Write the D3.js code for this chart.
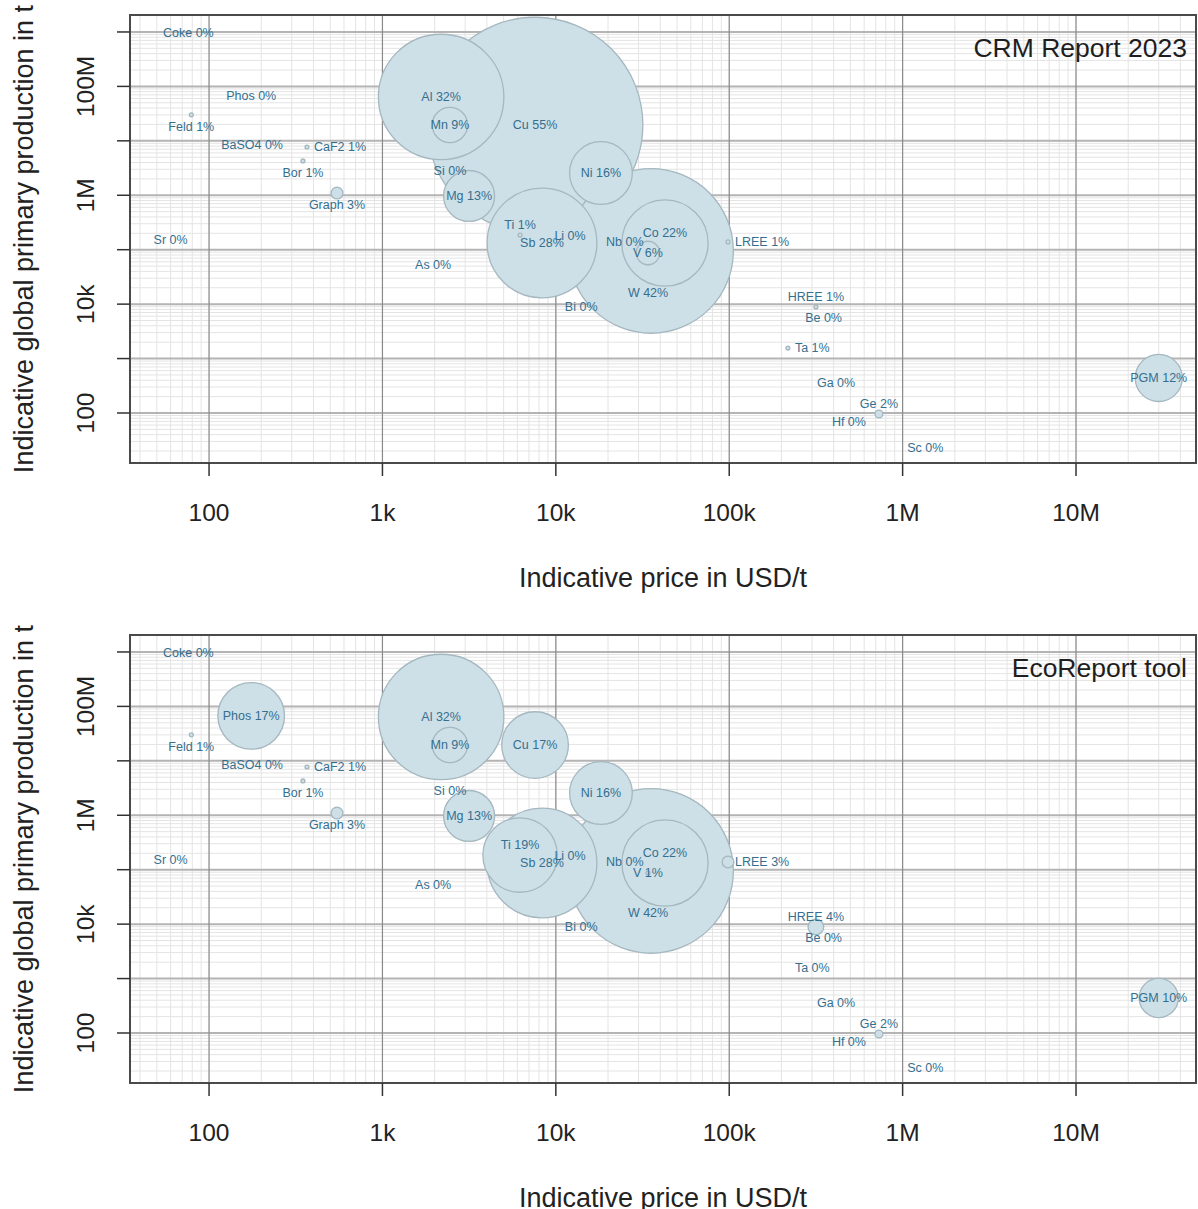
<!DOCTYPE html>
<html>
<head>
<meta charset="utf-8">
<script src="https://cdn.jsdelivr.net/npm/d3@7"></script>
<style>
  body { margin: 0; background: #fff; }
  svg { display: block; font-family: Arial, "Liberation Sans", sans-serif; }
</style>
</head>
<body>
<div class="canvas"></div>
<script>
// materials, indicative price (USD/t), indicative production (t)
const names = ['Coke', 'Phos', 'Feld', 'BaSO4', 'CaF2', 'Bor', 'Graph', 'Sr',
  'Al', 'Mn', 'Cu', 'Si', 'Mg', 'Ni', 'Ti', 'Sb', 'Li', 'Nb', 'Co', 'V', 'W',
  'LREE', 'Bi', 'As', 'HREE', 'Be', 'Ta', 'Ga', 'Ge', 'Hf', 'Sc', 'PGM'];
const price = [76, 175, 79, 177, 367, 348, 547, 60,
  2180, 2450, 7590, 2450, 3160, 18200, 6220, 8320, 12080, 25000, 42600, 34000, 35400,
  98400, 14000, 1960, 316000, 350000, 218000, 413000, 730000, 490000, 1350000, 30000000];
const production = [9.5e8, 6.7e7, 3.0e7, 8.4e6, 7.7e6, 4.27e6, 1.1e6, 1.5e5,
  6.4e7, 1.95e7, 1.95e7, 2.8e6, 9.7e5, 2.56e6, 1.86e5, 1.33e5, 1.79e5, 1.39e5, 1.33e5, 8.7e4, 9.5e4,
  1.39e5, 8850, 5.2e4, 8850, 5560, 1560, 356, 96, 68, 23, 440];

// share of impact (%) per source
const shareCRM = [0, 0, 1, 0, 1, 1, 3, 0,
  32, 9, 55, 0, 13, 16, 1, 28, 0, 0, 22, 6, 42,
  1, 0, 0, 1, 0, 1, 0, 2, 0, 0, 12];
const shareEco = [0, 17, 1, 0, 1, 1, 3, 0,
  32, 9, 17, 0, 13, 16, 19, 28, 0, 0, 22, 1, 42,
  3, 0, 0, 4, 0, 0, 0, 2, 0, 0, 10];

// label placement like R's pos: c centre, b below, t above, r right
const labelPos = ['c', 'c', 'b', 'c', 'r', 'b', 'b', 'c',
  'c', 'c', 'c', 'c', 'c', 'c', 't', 'c', 'c', 'c', 't', 'c', 'w',
  'r', 'c', 'c', 't', 'c', 'r', 'c', 't', 'c', 'c', 'c'];

const panelTitles = ['CRM Report 2023', 'EcoReport tool'];

const xTicks = [1e2, 1e3, 1e4, 1e5, 1e6, 1e7];
const xTickLabels = ['100', '1k', '10k', '100k', '1M', '10M'];
const yTicks = [1e2, 1e3, 1e4, 1e5, 1e6, 1e7, 1e8, 1e9];
const yTickLabels = { 1e2: '100', 1e4: '10k', 1e6: '1M', 1e8: '100M' };

const W = 1198, H = 1209;
const svg = d3.select('.canvas').append('svg').attr('width', W).attr('height', H);

const plot = { left: 130, right: 1196, top: 15, bottom: 463 };
const panelH = 620;

const x = d3.scaleLog().domain([35, 4.92e7]).range([plot.left, plot.right]);
const y = d3.scaleLog().domain([12.06, 2.05e9]).range([plot.bottom, plot.top]);
const r = d3.scaleLinear().domain([0, 100]).range([0, 196]);

const labelOffset = { c: [0, 0], b: [0, 12], t: [0, -10], r: [7, 0], w: [-3, 42] };

// minor grid values
const minors = (lo, hi) => {
  const out = [];
  for (let e = lo; e <= hi; e++) for (let m = 1; m <= 9; m++) out.push(m * Math.pow(10, e));
  return out;
};
const xMinor = minors(1, 7).filter(v => v > x.domain()[0] && v < x.domain()[1]);
const yMinor = minors(1, 9).filter(v => v > y.domain()[0] && v < y.domain()[1]);

function drawPanel(idx, shares) {
  const top = idx * panelH;
  svg.append('clipPath').attr('id', 'panel' + idx)
    .append('rect').attr('x', 0).attr('y', top).attr('width', W).attr('height', panelH);
  const outer = svg.append('g').attr('clip-path', `url(#panel${idx})`);
  const g = outer.append('g').attr('transform', `translate(0, ${top})`);

  svg.append('clipPath').attr('id', 'plot' + idx)
    .append('rect').attr('x', plot.left).attr('y', plot.top)
    .attr('width', plot.right - plot.left).attr('height', plot.bottom - plot.top);
  const area = g.append('g').attr('clip-path', `url(#plot${idx})`);

  // minor grid
  area.selectAll('.vminor').data(xMinor).enter().append('line')
    .attr('x1', d => x(d)).attr('x2', d => x(d))
    .attr('y1', plot.top).attr('y2', plot.bottom)
    .attr('stroke', '#e4e4e4').attr('stroke-width', 1);
  area.selectAll('.hminor').data(yMinor).enter().append('line')
    .attr('y1', d => y(d)).attr('y2', d => y(d))
    .attr('x1', plot.left).attr('x2', plot.right)
    .attr('stroke', '#e4e4e4').attr('stroke-width', 1);

  // major grid
  area.selectAll('.hmajor').data(yTicks).enter().append('line')
    .attr('y1', d => y(d)).attr('y2', d => y(d))
    .attr('x1', plot.left).attr('x2', plot.right)
    .attr('stroke', '#b4b4b4').attr('stroke-width', 2);
  area.selectAll('.vmajor').data(xTicks).enter().append('line')
    .attr('x1', d => x(d)).attr('x2', d => x(d))
    .attr('y1', plot.top).attr('y2', plot.bottom)
    .attr('stroke', '#8a8a8a').attr('stroke-width', 1.2);

  // bubbles, biggest first so smaller ones stay visible
  const rows = names.map((n, i) => ({
    name: n, price: price[i], prod: production[i], share: shares[i], pos: labelPos[i]
  }));
  const bubbles = rows.filter(d => d.share > 0).sort((a, b) => b.share - a.share);
  area.selectAll('.bubble').data(bubbles).enter().append('circle')
    .attr('cx', d => x(d.price)).attr('cy', d => y(d.prod))
    .attr('r', d => r(d.share))
    .attr('fill', '#cddfe7')
    .attr('stroke', '#a5b7bf')
    .attr('stroke-width', 1.3);

  area.selectAll('.lbl').data(rows).enter().append('text')
    .attr('x', d => x(d.price) + labelOffset[d.pos][0])
    .attr('y', d => y(d.prod) + labelOffset[d.pos][1])
    .attr('text-anchor', d => d.pos === 'r' ? 'start' : 'middle')
    .attr('dominant-baseline', 'central')
    .attr('font-size', 12.5)
    .attr('fill', '#346f90')
    .text(d => `${d.name} ${d.share}%`);

  // frame
  g.append('rect')
    .attr('x', plot.left).attr('y', plot.top)
    .attr('width', plot.right - plot.left).attr('height', plot.bottom - plot.top)
    .attr('fill', 'none').attr('stroke', '#4a4a4a').attr('stroke-width', 2);

  // x axis
  g.selectAll('.xt').data(xTicks).enter().append('line')
    .attr('x1', d => x(d)).attr('x2', d => x(d))
    .attr('y1', plot.bottom).attr('y2', plot.bottom + 13)
    .attr('stroke', '#333').attr('stroke-width', 1.5);
  g.selectAll('.xtl').data(xTicks).enter().append('text')
    .attr('x', d => x(d)).attr('y', plot.bottom + 58)
    .attr('text-anchor', 'middle')
    .attr('font-size', 24.5).attr('fill', '#222')
    .text((d, i) => xTickLabels[i]);
  g.append('text')
    .attr('x', (plot.left + plot.right) / 2).attr('y', plot.bottom + 124)
    .attr('text-anchor', 'middle')
    .attr('font-size', 27).attr('fill', '#222')
    .text('Indicative price in USD/t');

  // y axis
  g.selectAll('.yt').data(yTicks).enter().append('line')
    .attr('y1', d => y(d)).attr('y2', d => y(d))
    .attr('x1', plot.left).attr('x2', plot.left - 13)
    .attr('stroke', '#333').attr('stroke-width', 1.5);
  g.selectAll('.ytl').data(yTicks.filter(d => yTickLabels[d])).enter().append('text')
    .attr('transform', d => `translate(94, ${y(d)}) rotate(-90)`)
    .attr('text-anchor', 'middle')
    .attr('font-size', 24.5).attr('fill', '#222')
    .text(d => yTickLabels[d]);
  g.append('text')
    .attr('transform', `translate(33, ${(plot.top + plot.bottom) / 2}) rotate(-90)`)
    .attr('text-anchor', 'middle')
    .attr('font-size', 27).attr('fill', '#222')
    .text('Indicative global primary production in t');

  // panel legend
  g.append('text')
    .attr('x', plot.right - 9).attr('y', 57)
    .attr('text-anchor', 'end')
    .attr('font-size', 26.5).attr('fill', '#1e1e1e')
    .text(panelTitles[idx]);
}

drawPanel(0, shareCRM);
drawPanel(1, shareEco);
</script>
</body>
</html>
